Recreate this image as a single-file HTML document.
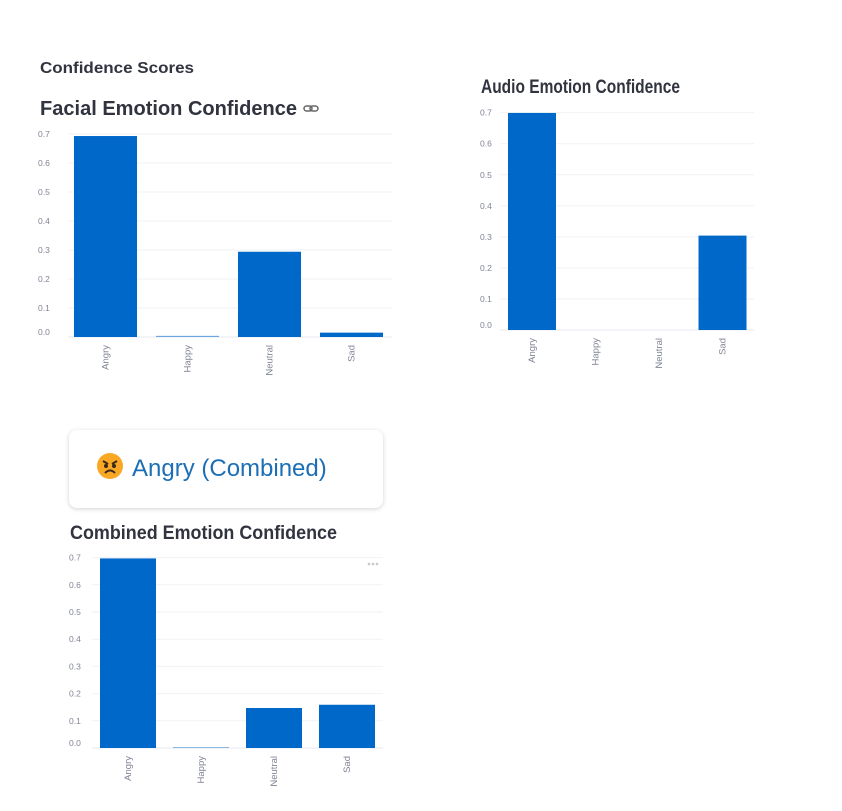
<!DOCTYPE html>
<html><head><meta charset="utf-8">
<style>
html,body{margin:0;padding:0;background:#fff;width:842px;height:811px;overflow:hidden;}
#card{position:absolute;left:69px;top:430px;width:314px;height:78px;background:#fff;border-radius:8px;box-shadow:0 1px 5px rgba(0,0,0,0.18);}
#card-text{position:absolute;left:96px;top:452px;font-family:"Liberation Sans",sans-serif;font-size:24px;color:#1c6fb5;white-space:nowrap;}
svg{position:absolute;left:0;top:0;}
text{font-family:"Liberation Sans",sans-serif;}
</style></head>
<body>
<div id="card"></div>
<svg width="842" height="811" id="svg">
  <text x="40" y="73" font-size="16" font-weight="bold" fill="#31333f" textLength="154" lengthAdjust="spacingAndGlyphs">Confidence Scores</text>
  <text x="40" y="115" font-size="20" font-weight="bold" fill="#31333f" textLength="257" lengthAdjust="spacingAndGlyphs">Facial Emotion Confidence</text>
  <g stroke="#666" stroke-width="1.5" fill="none">
    <rect x="304" y="106" width="8" height="5" rx="2.5"/><rect x="310" y="106" width="8" height="5" rx="2.5"/>
  </g>
  <text x="481" y="93" font-size="19" font-weight="bold" fill="#31333f" textLength="199" lengthAdjust="spacingAndGlyphs">Audio Emotion Confidence</text>
  <text x="70" y="539" font-size="19" font-weight="bold" fill="#31333f" textLength="267" lengthAdjust="spacingAndGlyphs">Combined Emotion Confidence</text>
  <g fill="#c8c8cc">
    <circle cx="369" cy="564" r="1.3"/><circle cx="373" cy="564" r="1.3"/><circle cx="377" cy="564" r="1.3"/>
  </g>
  <g id="c1"></g>
  <g id="c2"></g>
  <g id="c3"></g>
</svg>
<div id="card-text"><svg width="28" height="28" viewBox="0 0 28 28" style="position:relative;vertical-align:-4px;margin-right:8px"><circle cx="14" cy="14" r="13" fill="#f9a825"/><path d="M7 9 L12 12 M21 9 L16 12" stroke="#3a2a1a" stroke-width="2"/><circle cx="10" cy="14" r="2" fill="#3a2a1a"/><circle cx="18" cy="14" r="2" fill="#3a2a1a"/><path d="M9 21 Q14 16 19 21" stroke="#3a2a1a" stroke-width="2" fill="none"/></svg>Angry (Combined)</div>
<script>
const categories = ["Angry","Happy","Neutral","Sad"];
const facialValues = [0.693, 0.004, 0.294, 0.015];
const audioValues = [0.699, 0, 0, 0.304];
const combinedValues = [0.697, 0.003, 0.147, 0.159];
const yTicks = [0,0.1,0.2,0.3,0.4,0.5,0.6,0.7];
const yTickLabels = ["0.0","0.1","0.2","0.3","0.4","0.5","0.6","0.7"];
const NS="http://www.w3.org/2000/svg";
function mk(tag, attrs, parent){const e=document.createElementNS(NS,tag);for(const k in attrs)e.setAttribute(k,attrs[k]);parent.appendChild(e);return e;}
function draw(id, values, cfg){
  const g=document.getElementById(id);
  const y=v=>cfg.y0-v*cfg.ppu;
  const x=i=>cfg.bx0+cfg.band*i;
  yTicks.forEach((t,i)=>{
    const ln=mk('line',{x1:cfg.x0,x2:cfg.x1,y1:y(t),y2:y(t),stroke:i===0?'#e6e9ef':'#f0f2f6','stroke-width':1},g);
    
    
    const tx=mk('text',{x:cfg.lx,y:i===0?y(t)-2:y(t)+3,'font-size':8.5,fill:'#808495'},g);
    tx.textContent=yTickLabels[i];
    
    
  });
  values.forEach((v,i)=>{
    const bx=x(i);
    const h=Math.max(v*cfg.ppu,0);
    const r=mk('rect',{x:bx,y:y(v),width:cfg.bw,height:h,fill:'#0068c9'},g);
    if(v<0.01) r.setAttribute('fill-opacity','0.55');
    
    
    const cx=bx+cfg.bw/2;
    const tx=mk('text',{x:0,y:0,'font-size':9.5,fill:'#808495','text-anchor':'end',transform:`translate(${cx+3},${cfg.y0+8}) rotate(-90)`},g);
    tx.textContent=categories[i];
    
    
  });
}
draw('c1',facialValues,{x0:68,x1:392,bx0:74,band:82,y0:337,ppu:290,bw:63,lx:38});
draw('c2',audioValues,{x0:500,x1:754,bx0:508,band:63.5,y0:330,ppu:310.5,bw:48,lx:480});
draw('c3',combinedValues,{x0:92,x1:383,bx0:100,band:73,y0:748,ppu:272,bw:56,lx:69});
</script>
</body></html>
